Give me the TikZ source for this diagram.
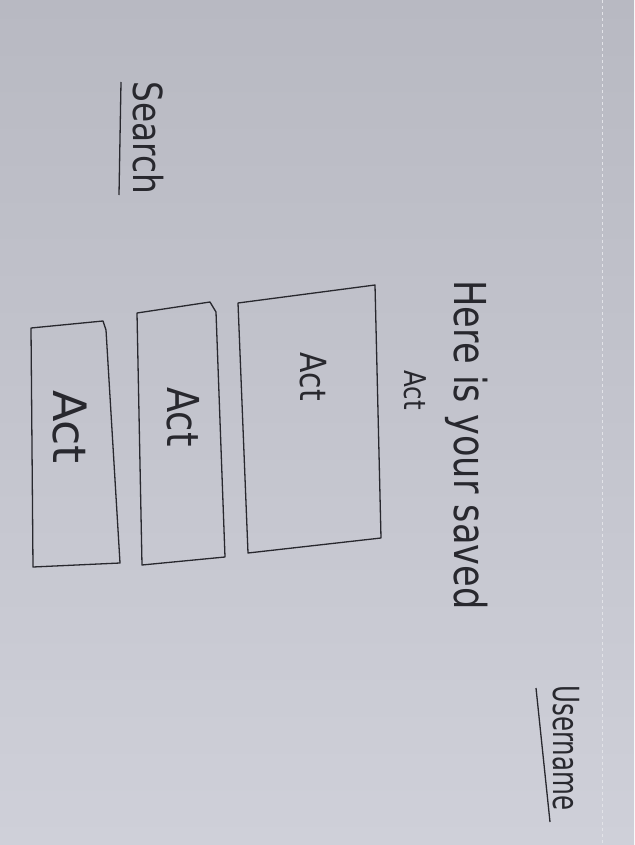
\documentclass[tikz,border=0pt]{standalone}
\usepackage{fontspec}
\setsansfont{DejaVu Sans}
\definecolor{paperTop}{RGB}{184,185,194}
\definecolor{paperBot}{RGB}{207,208,217}
\definecolor{ink}{RGB}{40,40,46}
\tikzset{
  hand/.style={font=\sffamily, text=ink, rotate=-90, inner sep=0pt},
  boxline/.style={draw=ink, line width=1.3pt, line join=round},
}
\begin{document}
\begin{tikzpicture}[x=1pt,y=-1pt]
\useasboundingbox (0,0) rectangle (634,845);
\shade[top color=paperTop, bottom color=paperBot] (0,0) rectangle (634,845);
\draw[white!40!paperBot, line width=0.8pt, dashed] (602,0) -- (602,845);

% header texts
\node[hand, font=\sffamily\fontsize{40}{40}\selectfont, xscale=0.82] (search) at (148,138) {Search};
\draw[ink, line width=1.3pt] (121,82) -- (119,195);
\node[hand, font=\sffamily\fontsize{36}{36}\selectfont, xscale=0.68] (user) at (566,748) {Username};
\draw[ink, line width=1.3pt] (536,688) -- (550,822);

\node[hand, font=\sffamily\fontsize{44}{44}\selectfont, xscale=0.8] (title) at (467,445) {Here is your saved};
\node[hand, font=\sffamily\fontsize{30}{30}\selectfont, xscale=0.82] (titleact) at (415,390) {Act};

% boxes
\draw[boxline] (238,303) -- (375,285) -- (381,538) -- (248,553) -- cycle;
\draw[boxline] (137,313) -- (210,302) -- (216,312) -- (225,557) -- (142,565) -- cycle;
\draw[boxline] (31,328) -- (103,321) -- (106,330) -- (120,563) -- (33,567) -- cycle;

\node[hand, font=\sffamily\fontsize{36}{36}\selectfont, xscale=0.83] (act3) at (313,377) {Act};
\node[hand, font=\sffamily\fontsize{44}{44}\selectfont, xscale=0.84] (act2) at (183,417) {Act};
\node[hand, font=\sffamily\fontsize{46}{46}\selectfont, xscale=1.0] (act1) at (70,427) {Act};
\end{tikzpicture}
\end{document}
